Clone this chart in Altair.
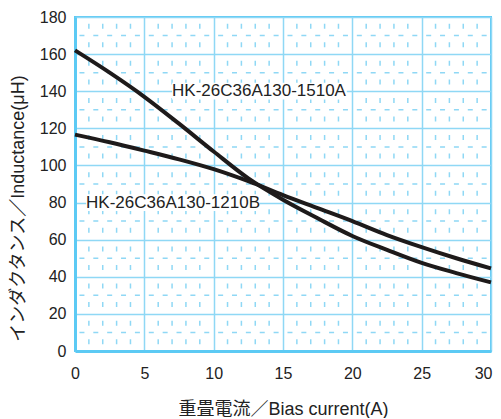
import altair as alt
import pandas as pd

# ---- data ----
current = [0, 2.5, 5, 7.5, 10, 12.5, 15, 17.5, 20, 22.5, 25, 27.5, 30]
ind_1510A = [162, 150, 137, 122.5, 107.5, 93, 81.5, 71.5, 62, 54.5, 47.5, 42, 37]
ind_1210B = [116.6, 112.5, 108, 103.3, 98, 91.5, 84, 77, 70, 62.5, 56, 50, 44.5]

series_names = ["HK-26C36A130-1510A", "HK-26C36A130-1210B"]

label_text = ["HK-26C36A130-1510A", "HK-26C36A130-1210B"]
label_x = [7.0, 0.8]
label_x_end = [19.6, 13.3]
label_y = [140, 80]

x_ticks = [0, 5, 10, 15, 20, 25, 30]
y_ticks = [0, 20, 40, 60, 80, 100, 120, 140, 160, 180]
x_minor = [v for v in range(1, 30) if v % 5 != 0]
y_minor = [10, 30, 50, 70, 90, 110, 130, 150, 170]

# ---- styling ----
BLUE = "#5ccaf4"
GRID = "#8fd8f5"
INK = "#1e1a1a"
FONT = "Liberation Sans, Noto Sans CJK JP, sans-serif"
W, H = 416, 334

rows = []
for name, vals in zip(series_names, [ind_1510A, ind_1210B]):
    for c, v in zip(current, vals):
        rows.append({"series": name, "current": c, "L": v})
curves = pd.DataFrame(rows)

xs = alt.Scale(domain=[0, 30], nice=False, zero=False)
ys = alt.Scale(domain=[0, 180], nice=False, zero=False)

x_axis = alt.Axis(values=x_ticks, title="重畳電流／Bias current(A)", grid=True,
                  gridColor=GRID, gridWidth=1.5, domainColor=BLUE, domainWidth=3,
                  ticks=False, tickSize=0, labelPadding=14, labelFontSize=16,
                  labelOverlap=False, labelFlush=False,
                  labelAlign=alt.condition("datum.value == 30", alt.value("right"),
                                           alt.value("center")),
                  labelOffset=alt.condition("datum.value == 30", alt.value(1),
                                            alt.value(0)),
                  labelFont=FONT, labelColor="#222", titleFont=FONT,
                  titleFontSize=18, titleFontWeight="normal", titleColor="#222",
                  titleX=W / 2, titleY=58, titleBaseline="middle", titleAlign="center")
y_axis = alt.Axis(values=y_ticks, title="インダクタンス／Inductance(μH)", grid=True,
                  gridColor=GRID, gridWidth=1.5, domainColor=BLUE, domainWidth=3,
                  ticks=False, tickSize=0, labelPadding=9, labelFontSize=16,
                  labelOverlap=False, labelFlush=False,
                  labelFont=FONT, labelColor="#222", titleFont=FONT,
                  titleFontSize=18, titleFontWeight="normal", titleColor="#222",
                  titleAngle=270, titleX=-57, titleY=191,
                  titleBaseline="middle", titleAlign="center")

vminor = pd.DataFrame({"x": x_minor, "y0": 0, "y1": 180})
hminor = pd.DataFrame({"y": y_minor, "x0": 0, "x1": 30})

v_rules = alt.Chart(vminor).mark_rule(
    color=GRID, strokeWidth=1.5, strokeDash=[5, 13.56], strokeDashOffset=11.78
).encode(x=alt.X("x:Q", scale=xs, axis=x_axis),
         y=alt.Y("y0:Q", scale=ys, axis=y_axis), y2="y1:Q")

h_rules = alt.Chart(hminor).mark_rule(
    color=GRID, strokeWidth=1.5, strokeDash=[5, 8.87], strokeDashOffset=9.44
).encode(y=alt.Y("y:Q", scale=ys, axis=y_axis),
         x=alt.X("x0:Q", scale=xs, axis=x_axis), x2="x1:Q")

labels = pd.DataFrame({"text": label_text, "x": label_x, "x2": label_x_end,
                       "y": label_y})
labels["ylo"] = labels["y"] - 4.5
labels["yhi"] = labels["y"] + 4.5

bg = alt.Chart(labels).mark_rect(color="white").encode(
    x=alt.X("x:Q", scale=xs, axis=x_axis), x2="x2:Q",
    y=alt.Y("ylo:Q", scale=ys, axis=y_axis), y2="yhi:Q")

lines = alt.Chart(curves).mark_line(
    color=INK, strokeWidth=4, interpolate="monotone"
).encode(x=alt.X("current:Q", scale=xs, axis=x_axis),
         y=alt.Y("L:Q", scale=ys, axis=y_axis),
         detail="series:N")

txt = alt.Chart(labels).mark_text(
    align="left", baseline="middle", font=FONT, fontSize=17, color="#222"
).encode(x=alt.X("x:Q", scale=xs, axis=x_axis),
         y=alt.Y("y:Q", scale=ys, axis=y_axis), text="text:N")

chart = alt.layer(v_rules, h_rules, bg, lines, txt).properties(
    width=W, height=H,
    autosize=alt.AutoSizeParams(type="none"),
    padding={"left": 67, "top": 9, "right": 2, "bottom": 67},
    background="white",
).configure_view(stroke=BLUE, strokeWidth=2).configure_axis(labelOverlap=False)

chart.save("out.html", embed_options={"renderer": "svg", "actions": False})
